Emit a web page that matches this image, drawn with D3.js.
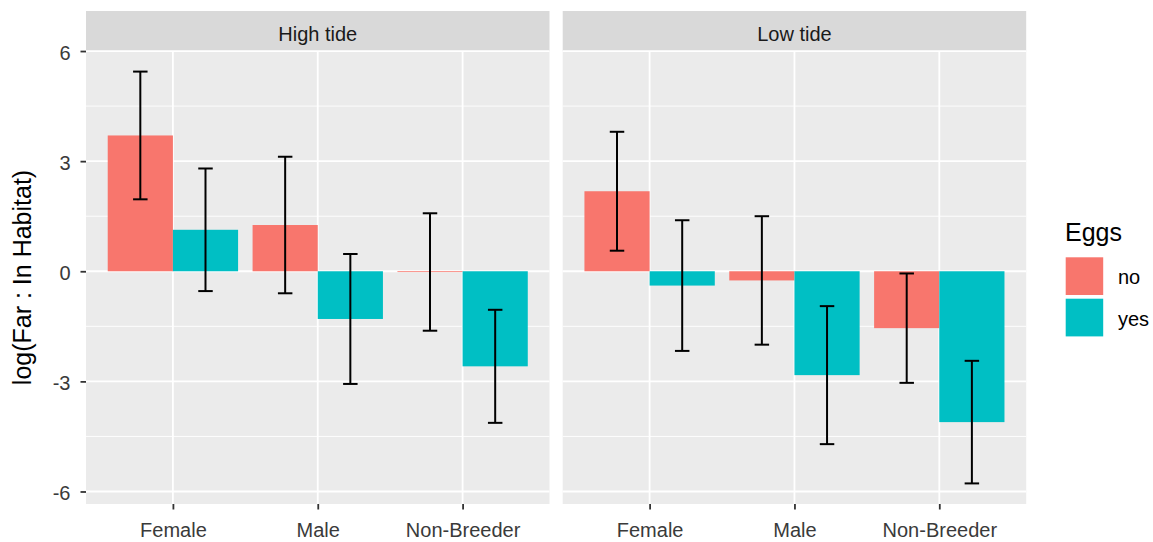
<!DOCTYPE html>
<html>
<head>
<meta charset="utf-8">
<script src="https://cdn.jsdelivr.net/npm/d3@7"></script>
<style>
  body { margin: 0; background: #fff; }
  text { font-family: "Liberation Sans", Arial, sans-serif; }
</style>
</head>
<body>
<svg id="chart" width="1153" height="542"></svg>
<script>
// values
const categories = ["Female", "Male", "Non-Breeder"];
const tides = ["High tide", "Low tide"];
const eggs = ["no", "yes"];
const highNoMean = [3.70, 1.26, -0.02];
const highNoErr = [1.74, 1.86, 1.60];
const highYesMean = [1.13, -1.30, -2.59];
const highYesErr = [1.67, 1.77, 1.54];
const lowNoMean = [2.18, -0.25, -1.55];
const lowNoErr = [1.62, 1.75, 1.49];
const lowYesMean = [-0.39, -2.83, -4.11];
const lowYesErr = [1.78, 1.88, 1.67];
const yTicks = [-6, -3, 0, 3, 6];
const yMinor = [-4.5, -1.5, 1.5, 4.5];

const colors = {no: "#F8766D", yes: "#00BFC4"};

// build rows for the two panels
let rows = [];
let series = {
    "High tide": {no: [highNoMean, highNoErr], yes: [highYesMean, highYesErr]},
    "Low tide": {no: [lowNoMean, lowNoErr], yes: [lowYesMean, lowYesErr]}
};
tides.forEach(function(t) {
    eggs.forEach(function(e) {
        let m = series[t][e][0], er = series[t][e][1];
        for (let i = 0; i < categories.length; i++) {
            rows.push({tide: t, egg: e, cat: categories[i], mean: m[i], err: er[i]});
        }
    });
});

let lo = d3.min(rows, d => d.mean - d.err);
let hi = d3.max(rows, d => d.mean + d.err);
let pad = (hi - lo) * 0.05;

let svg = d3.select("#chart");
let panelTop = 51, panelBottom = 504, stripTop = 11;
let panelLefts = [86, 562.7], panelW = 463.5;
let fontAxis = "20px";

let y = d3.scaleLinear().domain([lo - pad, hi + pad]).range([panelBottom, panelTop]);

tides.forEach(function(t, k) {
    let left = panelLefts[k];
    let x0 = d3.scalePoint().domain(categories).range([left, left + panelW]).padding(0.6);
    let step = x0.step();
    let x1 = d3.scaleBand().domain(eggs).range([-0.45 * step, 0.45 * step]);

    let g = svg.append("g").attr("class", "panel-" + k);

    // strip
    g.append("rect").attr("x", left).attr("y", stripTop)
        .attr("width", panelW).attr("height", panelTop - stripTop).attr("fill", "#D9D9D9");
    g.append("text").attr("x", left + panelW / 2).attr("y", 40.5)
        .attr("text-anchor", "middle").attr("font-size", fontAxis).attr("fill", "#1A1A1A")
        .text(t);

    // background
    g.append("rect").attr("x", left).attr("y", panelTop)
        .attr("width", panelW).attr("height", panelBottom - panelTop).attr("fill", "#EBEBEB");

    g.selectAll(".minor").data(yMinor).enter().append("line")
        .attr("x1", left).attr("x2", left + panelW)
        .attr("y1", d => y(d)).attr("y2", d => y(d))
        .attr("stroke", "#fff").attr("stroke-width", 0.9);
    g.selectAll(".major").data(yTicks).enter().append("line")
        .attr("x1", left).attr("x2", left + panelW)
        .attr("y1", d => y(d)).attr("y2", d => y(d))
        .attr("stroke", "#fff").attr("stroke-width", 1.8);
    g.selectAll(".vmajor").data(categories).enter().append("line")
        .attr("x1", d => x0(d)).attr("x2", d => x0(d))
        .attr("y1", panelTop).attr("y2", panelBottom)
        .attr("stroke", "#fff").attr("stroke-width", 1.8);

    let data = rows.filter(d => d.tide === t);

    g.selectAll(".bar").data(data).enter().append("rect")
        .attr("x", d => x0(d.cat) + x1(d.egg))
        .attr("width", x1.bandwidth())
        .attr("y", d => y(Math.max(0, d.mean)))
        .attr("height", d => Math.max(0.8, Math.abs(y(d.mean) - y(0))))
        .attr("fill", d => colors[d.egg]);

    // error bars
    let cap = 0.05 * step;
    let eb = g.selectAll(".eb").data(data).enter().append("g")
        .attr("stroke", "#000").attr("stroke-width", 2).attr("fill", "none");
    let cx = d => x0(d.cat) + x1(d.egg) + x1.bandwidth() / 2;
    eb.append("line").attr("x1", cx).attr("x2", cx)
        .attr("y1", d => y(d.mean + d.err)).attr("y2", d => y(d.mean - d.err));
    eb.append("line").attr("x1", d => cx(d) - cap).attr("x2", d => cx(d) + cap)
        .attr("y1", d => y(d.mean + d.err)).attr("y2", d => y(d.mean + d.err));
    eb.append("line").attr("x1", d => cx(d) - cap).attr("x2", d => cx(d) + cap)
        .attr("y1", d => y(d.mean - d.err)).attr("y2", d => y(d.mean - d.err));

    // x axis
    let xa = g.append("g").attr("transform", "translate(0," + panelBottom + ")")
        .call(d3.axisBottom(x0).tickSize(5.5).tickPadding(4));
    xa.select(".domain").remove();
    xa.selectAll("line").attr("stroke", "#333").attr("stroke-width", 1.8);
    xa.selectAll("text").attr("font-size", fontAxis).attr("fill", "#3A3A3A")
        .attr("dy", "0").attr("y", 32.7)
        .style("font-family", "'Liberation Sans', Arial, sans-serif");
});

// y axis
let ya = svg.append("g").attr("transform", "translate(" + panelLefts[0] + ",0)")
    .call(d3.axisLeft(y).tickValues(yTicks).tickFormat(d => String(d)).tickSize(5.5).tickPadding(10));
ya.select(".domain").remove();
ya.selectAll("line").attr("stroke", "#333").attr("stroke-width", 1.8);
ya.selectAll("text").attr("font-size", fontAxis).attr("fill", "#3A3A3A")
    .attr("dy", "0.4em")
    .style("font-family", "'Liberation Sans', Arial, sans-serif");

svg.append("text")
    .attr("transform", "translate(31," + ((panelTop + panelBottom) / 2) + ") rotate(-90)")
    .attr("text-anchor", "middle").attr("font-size", "25px").attr("fill", "#000")
    .text("log(Far : In Habitat)");

// legend
let legend = svg.append("g").attr("transform", "translate(1065,0)");
legend.append("text").attr("x", 0).attr("y", 240.5)
    .attr("font-size", "25px").attr("fill", "#000").text("Eggs");
let keys = legend.selectAll(".key").data(eggs).enter().append("g")
    .attr("transform", (d, i) => "translate(0," + (257.3 + i * 41.4) + ")");
keys.append("rect").attr("x", 0.7).attr("y", 0).attr("width", 37.5).attr("height", 37.7)
    .attr("fill", d => colors[d]);
keys.append("text").attr("x", 53).attr("y", 27)
    .attr("font-size", fontAxis).attr("fill", "#000").text(d => d);
</script>
</body>
</html>
